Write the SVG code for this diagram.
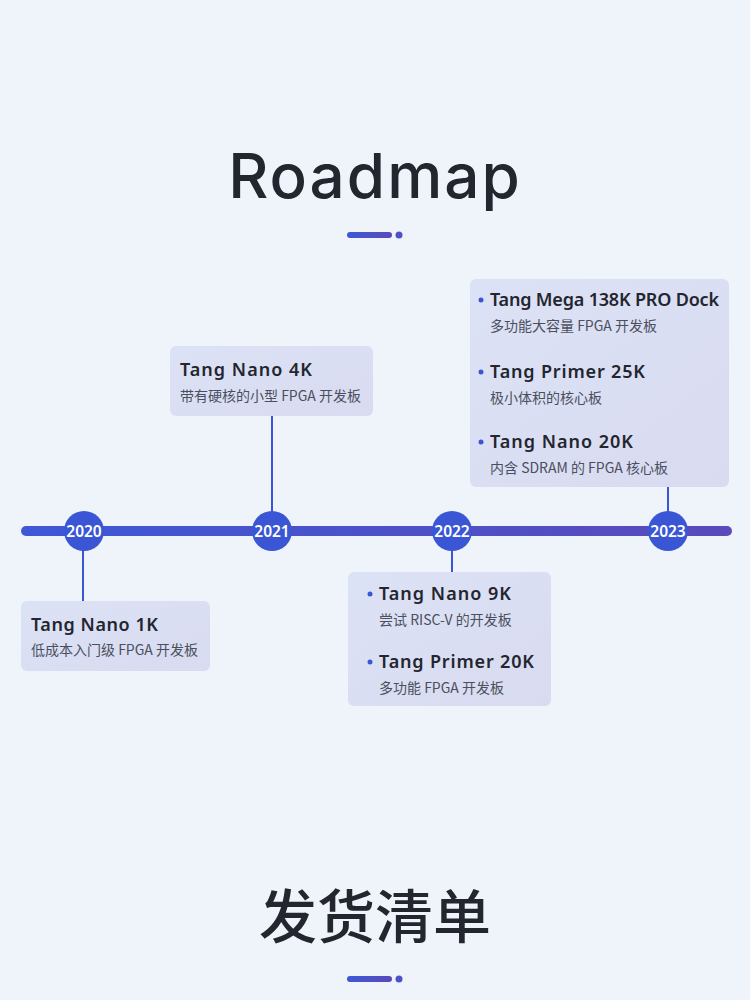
<svg xmlns="http://www.w3.org/2000/svg" width="750" height="1000" viewBox="0 0 750 1000">
<defs>
<linearGradient id="bar" x1="0" y1="0" x2="1" y2="0">
<stop offset="0" stop-color="#3E58D6"/><stop offset="1" stop-color="#5A4ABB"/>
</linearGradient>
<linearGradient id="box" x1="0" y1="0" x2="1" y2="1">
<stop offset="0" stop-color="#DCE2F5"/><stop offset="1" stop-color="#D9DBF0"/>
</linearGradient>
<style>
.h{font-family:"Noto Sans","Inter","Noto Sans CJK SC",sans-serif;font-weight:600;font-size:18px;fill:#23252F}
.s{font-family:"Noto Sans CJK SC","Noto Sans",sans-serif;font-size:14px;fill:#4A4F5E}
.yr{font-family:"Noto Sans","Inter",sans-serif;font-weight:600;font-size:15.5px;fill:#FFFFFF;text-anchor:middle}
.c{stroke:#3A56D4;stroke-width:2}
.box{fill:url(#box)}
.dot{fill:#3A56D4}
.node{fill:#3A56D4}
</style>
</defs>
<rect width="750" height="1000" fill="#EFF4FB"/>
<g id="title">
<text x="375" y="198" text-anchor="middle" font-family="Inter,'Noto Sans',sans-serif" font-weight="500" font-size="62" fill="#23252F" letter-spacing="2">Roadmap</text>
<rect x="347" y="232" width="45" height="6" rx="3" fill="url(#bar)"/>
<circle cx="399" cy="235" r="3.5" fill="#4E52C8"/>
</g>
<g id="connectors">
<rect x="21" y="526" width="711" height="10" rx="5" fill="url(#bar)"/>
<line class="c" x1="83" y1="545" x2="83" y2="601"/>
<line class="c" x1="272" y1="416" x2="272" y2="515"/>
<line class="c" x1="452" y1="545" x2="452" y2="572"/>
<line class="c" x1="668" y1="487" x2="668" y2="515"/>
</g>
<g id="y2020"><circle class="node" cx="84" cy="531" r="20"/><text class="yr" x="84" y="537">2020</text></g>
<g id="y2021"><circle class="node" cx="272" cy="531" r="20"/><text class="yr" x="272" y="537">2021</text></g>
<g id="y2022"><circle class="node" cx="452" cy="531" r="20"/><text class="yr" x="452" y="537">2022</text></g>
<g id="y2023"><circle class="node" cx="668" cy="531" r="20"/><text class="yr" x="668" y="537">2023</text></g>
<g id="box2020">
<rect class="box" x="21" y="601" width="189" height="70" rx="6"/>
<text class="h" x="31" y="631" textLength="127" lengthAdjust="spacing">Tang Nano 1K</text>
<text class="s" x="31" y="655">低成本入门级 FPGA 开发板</text>
</g>
<g id="box2021">
<rect class="box" x="170" y="346" width="203" height="70" rx="6"/>
<text class="h" x="180" y="376" textLength="132" lengthAdjust="spacing">Tang Nano 4K</text>
<text class="s" x="180" y="401">带有硬核的小型 FPGA 开发板</text>
</g>
<g id="box2022">
<rect class="box" x="348" y="572" width="203" height="134" rx="6"/>
<circle class="dot" cx="370" cy="594" r="2.5"/>
<text class="h" x="379" y="600" textLength="132" lengthAdjust="spacing">Tang Nano 9K</text>
<text class="s" x="379" y="625">尝试 RISC-V 的开发板</text>
<circle class="dot" cx="370" cy="662" r="2.5"/>
<text class="h" x="379" y="668" textLength="155" lengthAdjust="spacing">Tang Primer 20K</text>
<text class="s" x="379" y="693">多功能 FPGA 开发板</text>
</g>
<g id="box2023">
<rect class="box" x="470" y="279" width="259" height="208" rx="6"/>
<circle class="dot" cx="481" cy="300" r="2.5"/>
<text class="h" x="490" y="306" textLength="229" lengthAdjust="spacing">Tang Mega 138K PRO Dock</text>
<text class="s" x="490" y="331">多功能大容量 FPGA 开发板</text>
<circle class="dot" cx="481" cy="372" r="2.5"/>
<text class="h" x="490" y="378" textLength="155" lengthAdjust="spacing">Tang Primer 25K</text>
<text class="s" x="490" y="403">极小体积的核心板</text>
<circle class="dot" cx="481" cy="442" r="2.5"/>
<text class="h" x="490" y="448" textLength="143" lengthAdjust="spacing">Tang Nano 20K</text>
<text class="s" x="490" y="473">内含 SDRAM 的 FPGA 核心板</text>
</g>
<g id="footer">
<text x="375" y="938" text-anchor="middle" font-family="'Noto Sans CJK SC',sans-serif" font-weight="500" font-size="58" fill="#23252F">发货清单</text>
<rect x="347" y="976" width="45" height="6" rx="3" fill="url(#bar)"/>
<circle cx="399" cy="979" r="3.5" fill="#4E52C8"/>
</g>
</svg>
